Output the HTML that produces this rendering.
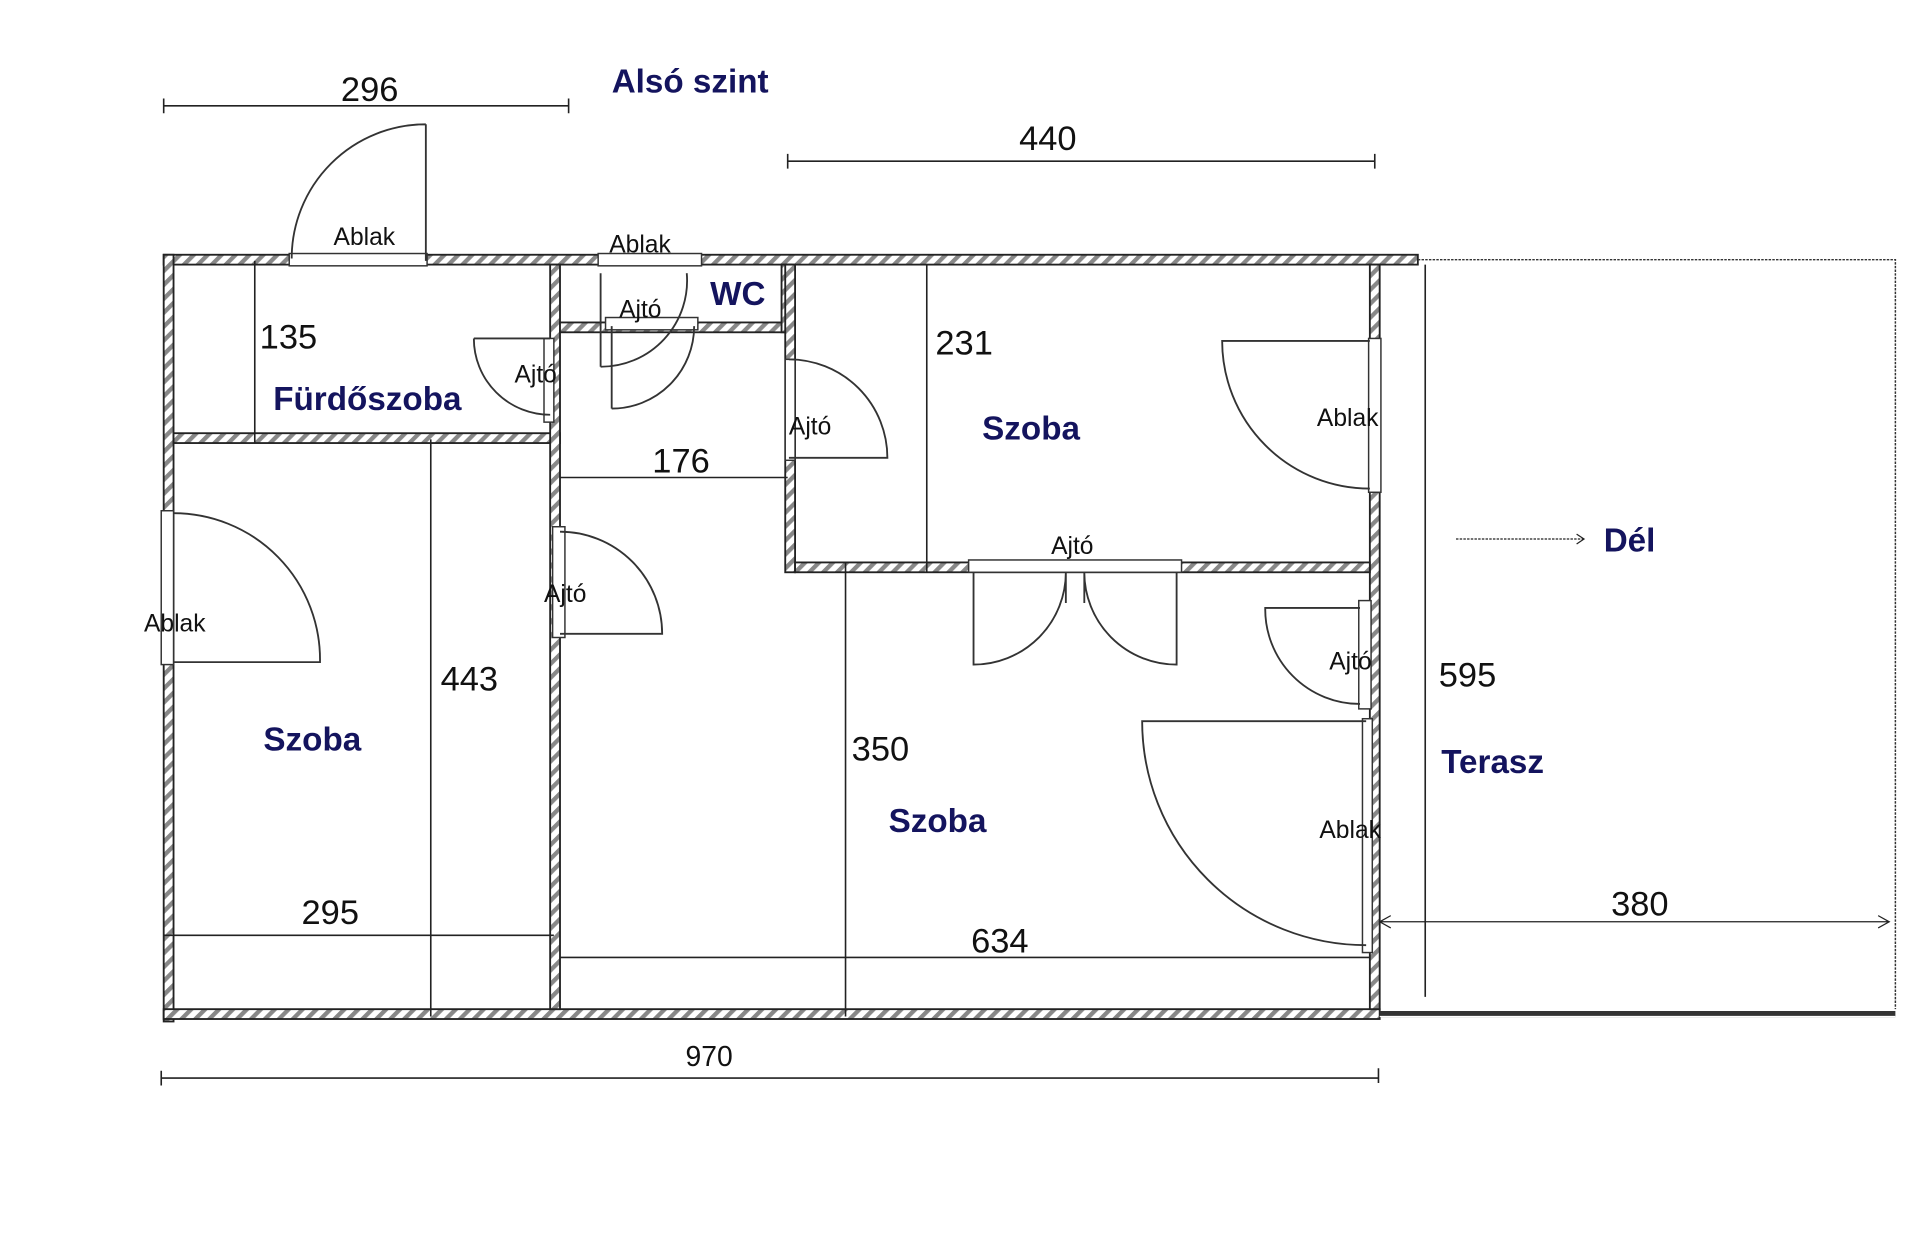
<!DOCTYPE html>
<html><head><meta charset="utf-8"><style>
html,body{margin:0;padding:0;background:#fff;width:1920px;height:1243px;overflow:hidden}
svg{display:block}
.n{font-family:"Liberation Sans",sans-serif;font-size:28px;fill:#111}
.b{font-family:"Liberation Sans",sans-serif;font-size:27px;fill:#14145e;font-weight:bold}
.s{font-family:"Liberation Sans",sans-serif;font-size:20px;fill:#111}
</style></head><body>
<svg width="1920" height="1243" viewBox="0 0 1560 1010" preserveAspectRatio="none" xmlns="http://www.w3.org/2000/svg">
<defs>
<pattern id="h" width="8" height="8" patternUnits="userSpaceOnUse" patternTransform="rotate(45)">
<rect width="8" height="8" fill="#fff"/><rect width="3.5" height="8" fill="#888"/></pattern>
</defs>
<g fill="url(#h)" stroke="#222" stroke-width="1.5">
<!-- outer walls -->
<rect x="133" y="207" width="1019" height="8"/>
<rect x="133" y="207" width="8" height="623"/>
<rect x="133" y="820" width="988" height="8"/>
<rect x="1113" y="215" width="8" height="605"/>
<!-- interior -->
<rect x="141" y="352" width="314" height="8"/>
<rect x="447" y="215" width="8" height="605"/>
<rect x="455" y="262" width="185" height="8"/>
<rect x="635" y="215" width="8" height="55"/>
<rect x="638" y="215" width="8" height="250"/>
<rect x="646" y="457" width="467" height="8"/>
</g>
<!-- terrace -->
<g stroke="#333" fill="none">
<path d="M1152 211 H1540 V820" stroke-dasharray="2 1" stroke-width="1.2"/>
<path d="M1121 824 H1540" stroke-width="5"/>
<path d="M1121 826 H1540" stroke="#fff" stroke-width="1"/>
</g>
<!-- windows -->
<g fill="#fff" stroke="#333" stroke-width="1.2">
<rect x="235" y="206" width="112" height="10"/>
<rect x="486" y="206" width="84" height="10"/>
<rect x="492" y="258" width="75" height="10"/>
<rect x="131" y="415" width="10" height="125"/>
<rect x="1112" y="275" width="10" height="125"/>
<rect x="1104" y="488" width="10" height="88"/>
<rect x="1107" y="584" width="8" height="190"/>
<rect x="449" y="428" width="10" height="90"/>
<rect x="638" y="292" width="8" height="82"/>
<rect x="787" y="455" width="173" height="10"/>
<rect x="442" y="275" width="8" height="68"/>
</g>
<!-- doors -->
<g fill="none" stroke="#333" stroke-width="1.5">
<path d="M346 101 V212 M346 101 A109 109 0 0 0 237 210"/>
<path d="M385 275 H447 M385 275 A62 62 0 0 0 447 337"/>
<path d="M488 222 V298 M488 298 A70 70 0 0 0 558 222"/>
<path d="M497 265 V332 M497 332 A67 67 0 0 0 564 265"/>
<path d="M641 292 A80 80 0 0 1 721 372 H641"/>
<path d="M455 432 A83 83 0 0 1 538 515 H455"/>
<path d="M141 417 A119 119 0 0 1 260 538 H141"/>
<path d="M1113 277 H993 A120 120 0 0 0 1113 397"/>
<path d="M791 465 V540 A75 75 0 0 0 866 465 M866 465 V490"/>
<path d="M956 465 V540 A75 75 0 0 1 881 465 M881 465 V490"/>
<path d="M1105 494 H1028 A77 77 0 0 0 1105 572"/>
<path d="M1110 586 H928 A182 182 0 0 0 1110 768"/>
</g>
<!-- dimension lines -->
<g stroke="#222" stroke-width="1.3" fill="none">
<path d="M133 86 H462 M133 80 V92 M462 80 V92"/>
<path d="M640 131 H1117 M640 125 V137 M1117 125 V137"/>
<path d="M131 876 H1120 M131 870 V882 M1120 868 V880"/>
<path d="M207 212 V360"/>
<path d="M753 215 V465"/>
<path d="M350 357 V826"/>
<path d="M687 457 V826"/>
<path d="M1158 215 V810"/>
<path d="M455 388 H640"/>
<path d="M133 760 H450"/>
<path d="M455 778 H1113"/>
<path d="M1121 749 H1535 M1130 744 L1121 749 L1130 754 M1526 744 L1535 749 L1526 754" stroke-width="1"/>
<path d="M1183 438 H1287" stroke-dasharray="2 1" stroke-width="1"/>
<path d="M1281 434 L1287 438 L1281 442" stroke-width="1"/>
</g>
<!-- texts -->
<text x="277" y="82" class="n">296</text>
<text x="497" y="75" class="b">Alsó szint</text>
<text x="828" y="122" class="n">440</text>
<text x="271" y="199" class="s">Ablak</text>
<text x="495" y="205" class="s">Ablak</text>
<text x="503" y="258" class="s">Ajtó</text>
<text x="577" y="248" class="b">WC</text>
<text x="211" y="283" class="n">135</text>
<text x="418" y="311" class="s">Ajtó</text>
<text x="222" y="333" class="b">Fürdőszoba</text>
<text x="760" y="288" class="n">231</text>
<text x="641" y="353" class="s">Ajtó</text>
<text x="798" y="357" class="b">Szoba</text>
<text x="1070" y="346" class="s">Ablak</text>
<text x="530" y="384" class="n">176</text>
<text x="854" y="450" class="s">Ajtó</text>
<text x="1303" y="448" class="b">Dél</text>
<text x="442" y="489" class="s">Ajtó</text>
<text x="117" y="513" class="s">Ablak</text>
<text x="1080" y="544" class="s">Ajtó</text>
<text x="358" y="561" class="n">443</text>
<text x="1169" y="558" class="n">595</text>
<text x="214" y="610" class="b">Szoba</text>
<text x="692" y="618" class="n">350</text>
<text x="1171" y="628" class="b">Terasz</text>
<text x="722" y="676" class="b">Szoba</text>
<text x="1072" y="681" class="s">Ablak</text>
<text x="1309" y="744" class="n">380</text>
<text x="245" y="751" class="n">295</text>
<text x="789" y="774" class="n">634</text>
<text x="557" y="866" class="s" style="font-size:23px">970</text>
</svg>
</body></html>
